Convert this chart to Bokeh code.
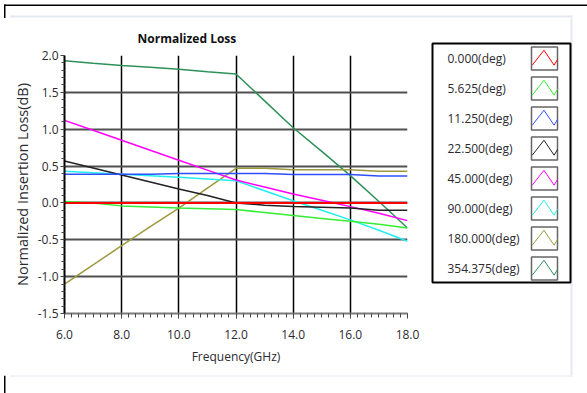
from bokeh.plotting import figure
from bokeh.models import Range1d, SingleIntervalTicker, NumeralTickFormatter
from bokeh.layouts import row, column
from bokeh.embed import file_html
from bokeh.resources import INLINE
from bokeh.core.properties import value

# ---------------- data ----------------
FREQ_GHZ = [6, 7, 8, 9, 10, 11, 12, 13, 14, 15, 16, 17, 18]

SERIES_LABELS = ["0.000(deg)", "5.625(deg)", "11.250(deg)", "22.500(deg)",
                 "45.000(deg)", "90.000(deg)", "180.000(deg)", "354.375(deg)"]

LOSS_0_000 = [0.0, 0.0, 0.0, 0.0, 0.0, 0.0, 0.0, 0.0, 0.0, 0.0, 0.0, 0.0, 0.0]
LOSS_5_625 = [0.02, 0.0, -0.04, -0.055, -0.07, -0.08, -0.09, -0.13, -0.17, -0.21, -0.25, -0.29, -0.34]
LOSS_11_250 = [0.39, 0.39, 0.39, 0.39, 0.40, 0.40, 0.40, 0.40, 0.385, 0.385, 0.385, 0.365, 0.365]
LOSS_22_500 = [0.57, 0.475, 0.38, 0.285, 0.19, 0.10, 0.0, -0.03, -0.05, -0.06, -0.07, -0.10, -0.10]
LOSS_45_000 = [1.12, 0.985, 0.85, 0.715, 0.58, 0.445, 0.31, 0.215, 0.12, 0.035, -0.05, -0.14, -0.24]
LOSS_90_000 = [0.43, 0.41, 0.39, 0.37, 0.35, 0.325, 0.30, 0.165, 0.03, -0.10, -0.23, -0.37, -0.52]
LOSS_180_000 = [-1.10, -0.84, -0.58, -0.32, -0.07, 0.20, 0.47, 0.47, 0.45, 0.45, 0.45, 0.43, 0.43]
LOSS_354_375 = [1.93, 1.895, 1.865, 1.84, 1.815, 1.78, 1.75, 1.385, 1.02, 0.70, 0.37, 0.02, -0.34]

SERIES_VALUES = [LOSS_0_000, LOSS_5_625, LOSS_11_250, LOSS_22_500,
                 LOSS_45_000, LOSS_90_000, LOSS_180_000, LOSS_354_375]
SERIES_COLORS = ["#ff0000", "#33ee33", "#2f4fff", "#222222",
                 "#ff00ff", "#22eeee", "#9c9a3c", "#2e9159"]
SERIES_WIDTHS = [2, 1.5, 1.5, 1.5, 1.5, 1.5, 1.5, 1.5]

FONT = "Open Sans"
TXT = "#2b2b30"
PANEL = "#e3eaf4"

W, H = 587, 393
TOP_H, BOT_Y = 18, 375
LEG_X = 422
MID_H = BOT_Y - TOP_H


def pixel_fig(x0, x1, y0, y1):
    """A blank figure whose data coordinates are the page's pixel coordinates."""
    f = figure(frame_width=x1 - x0, frame_height=y1 - y0,
               x_range=Range1d(x0, x1), y_range=Range1d(y1, y0),
               toolbar_location=None, output_backend="svg",
               min_border=0, min_border_left=0, min_border_right=0,
               min_border_top=0, min_border_bottom=0,
               x_axis_location=None, y_axis_location=None)
    f.grid.visible = False
    f.outline_line_color = None
    f.background_fill_color = "white"
    f.border_fill_color = "white"
    f.frame_align = False
    return f


# ---------------- main chart ----------------
p = figure(width=LEG_X, height=MID_H, x_range=Range1d(6, 18), y_range=Range1d(-1.5, 2.0),
           toolbar_location=None, output_backend="svg",
           min_border_left=64, min_border_right=LEG_X - 407,
           min_border_top=54 - TOP_H, min_border_bottom=BOT_Y - 313,
           title="Normalized Loss")
p.frame_align = False
p.outline_line_color = None
p.background_fill_color = "white"
p.border_fill_color = "white"

p.title.text_font = FONT
p.title.text_font_size = "12px"
p.title.text_font_style = "bold"
p.title.text_color = "#111111"
p.title.align = "left"
p.title.offset = 73
p.title.standoff = 18

p.xaxis.ticker = SingleIntervalTicker(interval=2, num_minor_ticks=8)
p.yaxis.ticker = SingleIntervalTicker(interval=0.5, num_minor_ticks=5)
p.xaxis.formatter = NumeralTickFormatter(format="0.0")
p.yaxis.formatter = NumeralTickFormatter(format="0.0")
p.xaxis.axis_label = "Frequency(GHz)"
p.yaxis.axis_label = "Normalized Insertion Loss(dB)"

for ax in (p.xaxis[0], p.yaxis[0]):
    ax.major_label_text_font = FONT
    ax.major_label_text_font_size = "12px"
    ax.major_label_text_color = TXT
    ax.axis_label_text_font = FONT
    ax.axis_label_text_font_style = "normal"
    ax.axis_label_text_color = TXT
    ax.major_tick_in = 0
    ax.minor_tick_in = 0

p.xaxis.axis_label_text_font_size = "12px"
p.yaxis.axis_label_text_font_size = "14.5px"
p.xaxis.major_tick_out = 5
p.xaxis.minor_tick_out = 4
p.yaxis.major_tick_out = 4
p.yaxis.minor_tick_out = 3
p.xaxis.major_label_standoff = 11
p.yaxis.major_label_standoff = 2
p.xaxis.axis_label_standoff = 6
p.yaxis.axis_label_standoff = 3
p.xaxis.axis_line_color = "#7a7a7a"
p.xaxis.axis_line_width = 2
p.yaxis.axis_line_color = "#000000"
p.yaxis.axis_line_width = 2
p.xaxis.major_tick_line_color = "#444444"
p.xaxis.minor_tick_line_color = "#444444"
p.yaxis.major_tick_line_color = "#444444"
p.yaxis.minor_tick_line_color = "#444444"

p.xgrid.grid_line_color = "#000000"
p.xgrid.grid_line_width = 1.5
p.ygrid.grid_line_color = "#505050"
p.ygrid.grid_line_width = 2

for vals, col, lw in reversed(list(zip(SERIES_VALUES, SERIES_COLORS, SERIES_WIDTHS))):
    p.line(FREQ_GHZ, vals, line_color=col, line_width=lw)

# ---------------- window frame strips ----------------
top = pixel_fig(0, W, 0, TOP_H)
top.quad(left=3.5, right=W, top=4, bottom=5.5, fill_color="black", line_color=None)
top.quad(left=3.5, right=5, top=4, bottom=TOP_H, fill_color="black", line_color=None)
top.quad(left=[10, 10, 570], right=[572, 12, 572], top=[15, 15, 15], bottom=[17, TOP_H, TOP_H],
         fill_color=PANEL, line_color=None)

bot = pixel_fig(0, W, BOT_Y, H)
bot.quad(left=3.5, right=5, top=BOT_Y, bottom=H, fill_color="black", line_color=None)
bot.quad(left=[10, 10, 570], right=[572, 12, 572], top=[374, BOT_Y, BOT_Y], bottom=[376, 376, 376],
         fill_color=PANEL, line_color=None)

# ---------------- legend panel ----------------
lg = pixel_fig(LEG_X, W, TOP_H, BOT_Y)
lg.quad(left=570, right=572, top=TOP_H, bottom=BOT_Y, fill_color=PANEL, line_color=None)
lg.quad(left=432, right=570, top=43, bottom=282, fill_color="white",
        line_color="black", line_width=2)

ZIG_T = [0.03, 0.48, 0.87, 1.0]
ZIG_V = [0.21, 0.86, 0.21, 0.46]
row0, step = 58, 30
for i, (lab, col) in enumerate(zip(SERIES_LABELS, SERIES_COLORS)):
    cy = row0 + step * i
    lg.text(x=[447], y=[cy], text=[lab], text_baseline="middle", text_align="left",
            text_font=value(FONT), text_font_size=value("12px"), text_color=TXT)
    lg.quad(left=531, right=557, top=cy - 11.5, bottom=cy + 11.5,
            fill_color="white", line_color="#666666", line_width=1.5)
    lg.line([531 + 26 * t for t in ZIG_T], [cy + 11.5 - 23 * v for v in ZIG_V],
            line_color=col, line_width=1)

layout = column(top, row(p, lg), bot)
open("out.html", "w").write(file_html(layout, INLINE))
